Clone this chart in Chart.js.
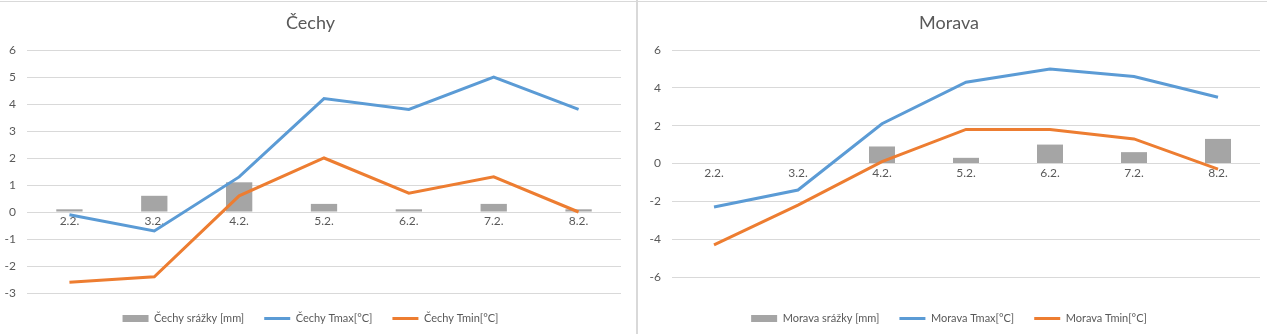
<!DOCTYPE html>
<html>
<head>
<meta charset="utf-8">
<script src="https://cdn.jsdelivr.net/npm/chart.js@4/dist/chart.umd.min.js"></script>
<style>
  body { margin: 0; background: #fff; }
  #wrap { position: relative; width: 1267px; height: 334px; overflow: hidden; }
  .panel { position: absolute; top: 0; height: 334px; }
  #left { left: 0; width: 636px; }
  #right { left: 638px; width: 629px; }
  .topline { position: absolute; left: 0; top: 1px; width: 1267px; height: 1px; background: #d9d9d9; }
  .sep { position: absolute; left: 636px; top: 0; width: 2px; height: 334px; background: #d9d9d9; }
</style>
</head>
<body>
<div id="wrap">
  <div class="panel" id="left"><canvas id="chart-cechy"></canvas></div>
  <div class="panel" id="right"><canvas id="chart-morava"></canvas></div>
  <div class="topline"></div>
  <div class="sep"></div>
</div>
<script>
// values
const days = ['2.2.', '3.2.', '4.2.', '5.2.', '6.2.', '7.2.', '8.2.'];

const cechySrazky = [0.1, 0.6, 1.1, 0.3, 0.1, 0.3, 0.1];
const cechyTmax = [-0.1, -0.7, 1.3, 4.2, 3.8, 5.0, 3.8];
const cechyTmin = [-2.6, -2.4, 0.6, 2.0, 0.7, 1.3, 0.0];

const moravaSrazky = [0, 0, 0.9, 0.3, 1.0, 0.6, 1.3];
const moravaTmax = [-2.3, -1.4, 2.1, 4.3, 5.0, 4.6, 3.5];
const moravaTmin = [-4.3, -2.2, 0.1, 1.8, 1.8, 1.3, -0.3];

const textColor = '#595959';
const gridColor = '#d9d9d9';
const fontFamily = 'Lato, "Open Sans", sans-serif';

function makeChart(canvasId, title, names, srazky, tmax, tmin, yMin, yMax, yStep, yWidth, padRight, legendGap) {
  const ctx = document.getElementById(canvasId).getContext('2d');
  return new Chart(ctx, {
    data: {
      labels: days,
      datasets: [
        {
          type: 'bar',
          label: names[0],
          data: srazky,
          backgroundColor: '#a5a5a5',
          borderWidth: 0,
          categoryPercentage: 1,
          barPercentage: 0.31,
          order: 1
        },
        {
          type: 'line',
          label: names[1],
          data: tmax,
          borderColor: '#5b9bd5',
          backgroundColor: '#5b9bd5',
          borderWidth: 3,
          pointRadius: 0,
          tension: 0,
          order: 0
        },
        {
          type: 'line',
          label: names[2],
          data: tmin,
          borderColor: '#ed7d31',
          backgroundColor: '#ed7d31',
          borderWidth: 3,
          pointRadius: 0,
          tension: 0,
          order: 0
        }
      ]
    },
    options: {
      responsive: true,
      maintainAspectRatio: false,
      animation: false,
      layout: { padding: { left: 0, right: padRight, top: 0, bottom: 0 } },
      plugins: {
        tooltip: { enabled: false },
        title: {
          display: true,
          text: title,
          color: textColor,
          font: { family: fontFamily, size: 18, weight: 'normal' },
          padding: { top: 12.5, bottom: 15.9 }
        },
        legend: {
          position: 'bottom',
          // empty legend title only used as a spacer above the legend row
          title: { display: true, text: '', font: { size: 0 }, padding: { top: legendGap, bottom: 0 } },
          labels: {
            color: textColor,
            font: { family: fontFamily, size: 11 },
            usePointStyle: true,
            pointStyleWidth: 26,
            boxHeight: 7,
            padding: 20,
            sort: (a, b) => a.datasetIndex - b.datasetIndex,
            generateLabels: (chart) => {
              const items = Chart.defaults.plugins.legend.labels.generateLabels(chart);
              items.forEach(item => {
                const ds = chart.data.datasets[item.datasetIndex];
                item.pointStyle = ds.type === 'bar' ? 'rect' : 'line';
                item.fillStyle = ds.type === 'bar' ? ds.backgroundColor : ds.borderColor;
              });
              return items;
            }
          }
        }
      },
      scales: {
        x: {
          position: { y: 0 },
          grid: { display: false, drawTicks: false },
          border: { display: false },
          ticks: { color: textColor, font: { family: fontFamily, size: 12 }, padding: 2, maxRotation: 0 }
        },
        y: {
          min: yMin,
          max: yMax,
          afterFit: (scale) => { scale.width = yWidth; },
          grid: { color: gridColor, drawTicks: false },
          border: { display: false },
          ticks: { stepSize: yStep, color: textColor, font: { family: fontFamily, size: 12 }, padding: 11 }
        }
      }
    }
  });
}

makeChart('chart-cechy', 'Čechy',
  ['Čechy srážky [mm]', 'Čechy Tmax[°C]', 'Čechy Tmin[°C]'],
  cechySrazky, cechyTmax, cechyTmin, -3, 6, 1, 27, 15, 0);

makeChart('chart-morava', 'Morava',
  ['Morava srážky [mm]', 'Morava Tmax[°C]', 'Morava Tmin[°C]'],
  moravaSrazky, moravaTmax, moravaTmin, -6, 6, 2, 34, 7, 16);
</script>
</body>
</html>
